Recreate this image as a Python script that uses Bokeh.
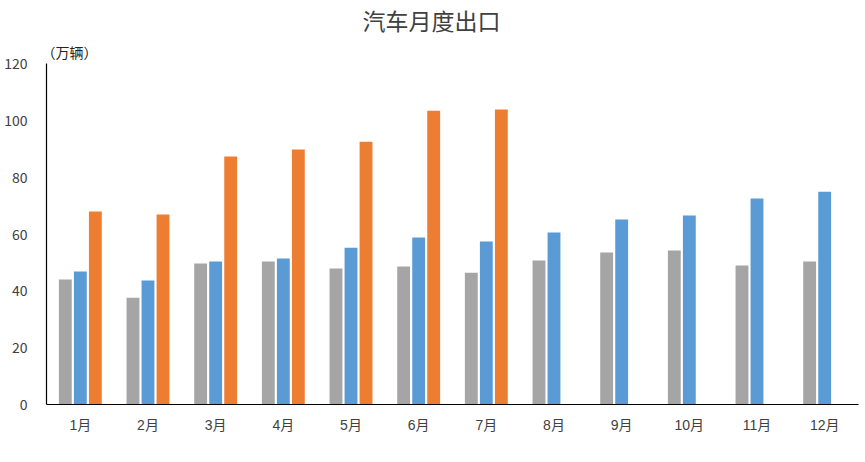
from bokeh.plotting import figure
from bokeh.models import ColumnDataSource, FactorRange, Range1d, FixedTicker, Title, Legend, LegendItem
from bokeh.transform import dodge
from bokeh.embed import file_html
from bokeh.resources import INLINE

months = ["1月", "2月", "3月", "4月", "5月", "6月", "7月", "8月", "9月", "10月", "11月", "12月"]
v2024 = [44.0, 37.6, 49.6, 50.3, 47.9, 48.6, 46.4, 50.7, 53.5, 54.2, 48.9, 50.3]
v2025 = [46.8, 43.6, 50.3, 51.4, 55.2, 58.8, 57.4, 60.5, 65.1, 66.5, 72.5, 74.9]
v2026 = [67.9, 66.9, 87.3, 89.7, 92.5, 103.4, 103.8]
series_names = ["2024年", "2025年", "2026年"]
y_ticks = [0, 20, 40, 60, 80, 100, 120]
title_text = "汽车月度出口"
unit_text = "（万辆）"

colors = ["#A5A5A5", "#5B9BD5", "#ED7D31"]
font = "Noto Sans CJK SC"
compact_font = "Liberation Sans, Noto Sans CJK SC"

p = figure(frame_width=812, frame_height=341, x_range=FactorRange(*months), y_range=Range1d(0, 120),
           output_backend="svg", toolbar_location=None, title=None,
           min_border_left=46, min_border_right=7, min_border_top=63, min_border_bottom=0)
p.outline_line_color = None
p.xgrid.grid_line_color = None
p.ygrid.grid_line_color = None
p.background_fill_color = "white"

src24 = ColumnDataSource(dict(m=months, v=v2024))
src25 = ColumnDataSource(dict(m=months, v=v2025))
src26 = ColumnDataSource(dict(m=months[:len(v2026)], v=v2026))

bw = 0.19
r1 = p.vbar(x=dodge("m", -0.222, range=p.x_range), top="v", width=bw, source=src24,
            fill_color=colors[0], line_color=None)
r2 = p.vbar(x=dodge("m", 0.0, range=p.x_range), top="v", width=bw, source=src25,
            fill_color=colors[1], line_color=None)
r3 = p.vbar(x=dodge("m", 0.222, range=p.x_range), top="v", width=bw, source=src26,
            fill_color=colors[2], line_color=None)

for ax in (p.xaxis, p.yaxis):
    ax.axis_line_color = "black"
    ax.axis_line_width = 1.2
    ax.major_tick_in = 0
    ax.major_tick_out = 0
    ax.minor_tick_line_color = None
    ax.major_label_text_font_size = "14px"
    ax.major_label_text_color = "#404040"

p.yaxis.major_label_text_font = font
p.xaxis.major_label_text_font = compact_font
p.yaxis.ticker = FixedTicker(ticks=y_ticks)
p.yaxis.major_label_standoff = 19
p.xaxis.major_label_standoff = 12

p.add_layout(Title(text=unit_text, align="left", offset=-5, standoff=5,
                   text_font=compact_font, text_font_size="14px", text_font_style="normal",
                   text_color="#222222"), "above")
p.add_layout(Title(text=title_text, align="left", offset=316, standoff=12,
                   text_font=compact_font, text_font_size="23px", text_font_style="normal",
                   text_color="#404040"), "above")

legend = Legend(items=[LegendItem(label=series_names[0], renderers=[r1]),
                       LegendItem(label=series_names[1], renderers=[r2]),
                       LegendItem(label=series_names[2], renderers=[r3])],
                orientation="horizontal", location="center",
                label_text_font=compact_font, label_text_font_size="14px", label_text_color="#595959",
                glyph_width=9, glyph_height=9, label_standoff=4, spacing=16, padding=0,
                label_height=14, margin=2, border_line_color=None, background_fill_alpha=0)
p.add_layout(legend, "below")

open("out.html", "w").write(file_html(p, INLINE))
